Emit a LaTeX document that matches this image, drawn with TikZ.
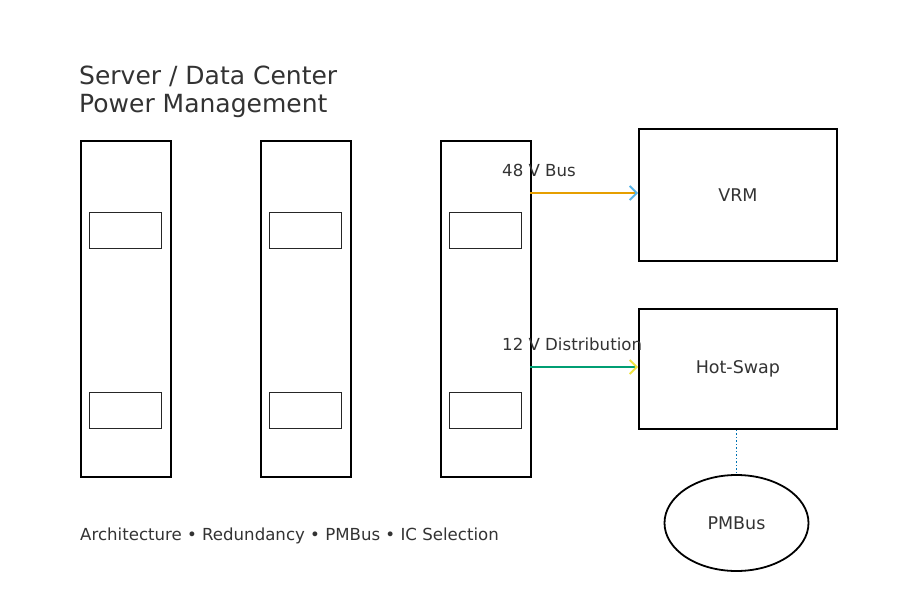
\documentclass[tikz,border=0pt]{standalone}
\usepackage{fontspec}
\setmainfont{DejaVu Sans}
\usetikzlibrary{arrows.meta,shapes.geometric}
\definecolor{txt}{HTML}{333333}
\definecolor{c1}{HTML}{E69F00}
\definecolor{c2}{HTML}{56B4E9}
\definecolor{c3}{HTML}{009E73}
\definecolor{c4}{HTML}{F0E442}
\definecolor{c5}{HTML}{0072B2}
\begin{document}
\begin{tikzpicture}[x=1pt,y=-1pt,
  box/.style={draw=black,line width=1.8pt,inner sep=0pt},
  slot/.style={draw=black!85,line width=1.4pt,inner sep=0pt,minimum width=72pt,minimum height=36pt},
  lbl/.style={text=txt,font=\fontsize{17.5}{20}\selectfont,inner sep=0pt},
  small/.style={text=txt,font=\fontsize{16.6}{19}\selectfont,inner sep=0pt},
  arr/.style={line width=1.8pt,-{Straight Barb[length=7pt,width=14pt,line width=1.8pt,color=#1]}}]
\useasboundingbox (0,0) rectangle (915,615);
\fill[white] (0,0) rectangle (915,615);
\node[text=txt,font=\fontsize{25}{27.5}\selectfont,align=left,anchor=north west,inner sep=0pt] (title) at (79,66) {Server / Data Center\\Power Management};
\foreach \x/\n in {80/a,260/b,440/c}{
  \node[box,anchor=north west,minimum width=90pt,minimum height=336pt] (r\n) at (\x,140) {};
  \node[slot,anchor=north west] (s\n1) at (\x+9,212) {};
  \node[slot,anchor=north west] (s\n2) at (\x+9,392) {};
}
\node[box,anchor=north west,minimum width=198pt,minimum height=132pt] (vrm) at (638,128) {};
\node[lbl] at (vrm.center) {VRM};
\node[box,anchor=north west,minimum width=198pt,minimum height=120pt] (hs) at (638,308) {};
\node[lbl] at (hs.center) {Hot-Swap};
\node[draw=black,line width=1.8pt,ellipse,minimum width=144pt,minimum height=96pt,lbl] (pm) at (736.5,523) {PMBus};
\coordinate (a1) at (530,193);
\coordinate (a2) at (530,367);
\draw[arr=c2,c1] (a1) -- (vrm.west |- a1);
\draw[arr=c4,c3] (a2) -- (hs.west |- a2);
\draw[c5,line width=1.5pt,dotted] (hs.south -| pm) -- (pm.north);
\node[small,anchor=base west] (l1) at (502,176) {48 V Bus};
\node[small,anchor=base west] (l2) at (502,350) {12 V Distribution};
\node[small,anchor=base west] (foot) at (80,540) {Architecture • Redundancy • PMBus • IC Selection};
\end{tikzpicture}
\end{document}
